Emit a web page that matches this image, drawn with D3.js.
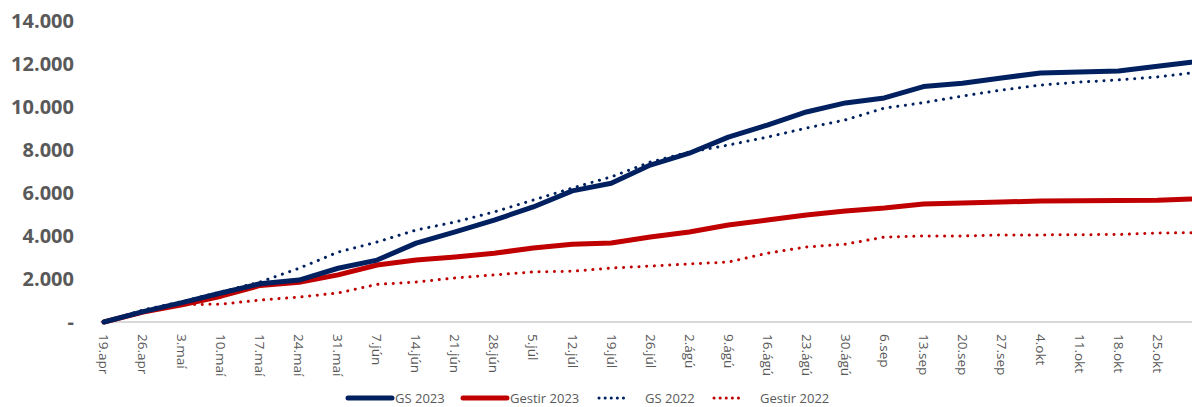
<!DOCTYPE html>
<html>
<head>
<meta charset="utf-8">
<script src="https://cdn.jsdelivr.net/npm/d3@7"></script>
<style>
  body { margin: 0; background: #fff; }
  text { font-family: "Open Sans", sans-serif; }
</style>
</head>
<body>
<script>
// weekly dates, last point is end of data
const dates = ["2023-04-19","2023-04-26","2023-05-03","2023-05-10","2023-05-17","2023-05-24","2023-05-31",
  "2023-06-07","2023-06-14","2023-06-21","2023-06-28","2023-07-05","2023-07-12","2023-07-19","2023-07-26",
  "2023-08-02","2023-08-09","2023-08-16","2023-08-23","2023-08-30","2023-09-06","2023-09-13","2023-09-20",
  "2023-09-27","2023-10-04","2023-10-11","2023-10-18","2023-10-25","2023-10-31"];

const gs2023 = [0, 480, 900, 1350, 1780, 1950, 2500, 2880, 3670, 4190, 4740, 5350, 6100, 6450, 7300,
  7850, 8600, 9160, 9770, 10190, 10420, 10950, 11100, 11350, 11580, 11630, 11670, 11900, 12080];
const gestir2023 = [0, 460, 800, 1200, 1700, 1850, 2190, 2650, 2880, 3020, 3200, 3440, 3620, 3670, 3950,
  4190, 4510, 4740, 4980, 5160, 5300, 5490, 5530, 5580, 5630, 5640, 5650, 5660, 5720];
const gs2022 = [0, 560, 950, 1400, 1860, 2500, 3250, 3720, 4280, 4650, 5120, 5670, 6230, 6750, 7440,
  7900, 8230, 8600, 9020, 9400, 9950, 10200, 10510, 10790, 11020, 11160, 11260, 11400, 11580];
const gestir2022 = [0, 460, 800, 830, 1020, 1160, 1350, 1750, 1860, 2050, 2190, 2330, 2360, 2510, 2600,
  2700, 2790, 3200, 3490, 3620, 3950, 4000, 4000, 4050, 4050, 4060, 4070, 4140, 4150];

const tickLabels = ["19.apr","26.apr","3.maí","10.maí","17.maí","24.maí","31.maí","7.jún","14.jún","21.jún",
  "28.jún","5.júl","12.júl","19.júl","26.júl","2.ágú","9.ágú","16.ágú","23.ágú","30.ágú","6.sep","13.sep",
  "20.sep","27.sep","4.okt","11.okt","18.okt","25.okt"];
const yTicks = [0, 2000, 4000, 6000, 8000, 10000, 12000, 14000];

const seriesNames = ["GS 2023", "Gestir 2023", "GS 2022", "Gestir 2022"];

document.addEventListener("DOMContentLoaded", () => {
    const width = 1192;
    const height = 407;
    const navy = "#002060";
    const red = "#c00000";

    const parse = d3.timeParse("%Y-%m-%d");
    const days = dates.map(parse);

    const x = d3.scaleTime()
        .domain([days[0], days[days.length - 1]])
        .range([104, 1191]);
    const y = d3.scaleLinear().domain([0, 14000]).range([322, 21]);

    const svg = d3.select('body')
        .append('svg')
        .attr('width', width)
        .attr('height', height);

    // y labels
    const fmt = v => v === 0 ? "-" : d3.format(",")(v).replace(/,/g, ".");
    svg.append('g')
        .selectAll('text')
        .data(yTicks)
        .enter()
        .append('text')
        .attr('x', 74)
        .attr('y', d => y(d))
        .attr('dy', '0.35em')
        .attr('text-anchor', 'end')
        .attr('font-size', 20)
        .attr('font-weight', 'bold')
        .attr('fill', '#595959')
        .text(fmt);

    // baseline
    svg.append('line')
        .attr('x1', 100).attr('x2', width)
        .attr('y1', y(0)).attr('y2', y(0))
        .attr('stroke', '#d9d9d9')
        .attr('stroke-width', 2);

    // x labels, rotated
    svg.append('g')
        .selectAll('text')
        .data(tickLabels)
        .enter()
        .append('text')
        .attr('transform', (d, i) => `translate(${x(days[i])},334) rotate(90)`)
        .attr('dy', '0.35em')
        .attr('font-size', 13.5)
        .attr('fill', '#595959')
        .text(d => d);

    const series = [
        { name: seriesNames[2], values: gs2022, color: navy, dotted: true },
        { name: seriesNames[3], values: gestir2022, color: red, dotted: true },
        { name: seriesNames[1], values: gestir2023, color: red, dotted: false },
        { name: seriesNames[0], values: gs2023, color: navy, dotted: false }
    ];

    const line = d3.line()
        .x((d, i) => x(days[i]))
        .y(d => y(d));

    const g = svg.append('g');
    g.selectAll('path')
        .data(series)
        .enter()
        .append('path')
        .attr('d', d => line(d.values))
        .attr('fill', 'none')
        .attr('stroke', d => d.color)
        .attr('stroke-width', d => d.dotted ? 3 : 5)
        .attr('stroke-linecap', 'round')
        .attr('stroke-linejoin', 'round')
        .attr('stroke-dasharray', d => d.dotted ? '0.1 7.6' : null);

    // legend
    const legend = [
        { name: seriesNames[0], color: navy, dotted: false, x: 348, len: 44 },
        { name: seriesNames[1], color: red, dotted: false, x: 463, len: 44 },
        { name: seriesNames[2], color: navy, dotted: true, x: 599, len: 30 },
        { name: seriesNames[3], color: red, dotted: true, x: 714, len: 30 }
    ];
    const ly = 398;
    const lg = svg.append('g').selectAll('g')
        .data(legend)
        .enter()
        .append('g');
    lg.append('line')
        .attr('x1', d => d.x).attr('x2', d => d.x + d.len)
        .attr('y1', ly).attr('y2', ly)
        .attr('stroke', d => d.color)
        .attr('stroke-width', d => d.dotted ? 3 : 5)
        .attr('stroke-linecap', 'round')
        .attr('stroke-dasharray', d => d.dotted ? '0.1 6' : null);
    lg.append('text')
        .attr('x', d => d.x + d.len + (d.dotted ? 16 : 3))
        .attr('y', ly)
        .attr('dy', '0.35em')
        .attr('font-size', 13)
        .attr('fill', '#595959')
        .text(d => d.name);
});
</script>
</body>
</html>
